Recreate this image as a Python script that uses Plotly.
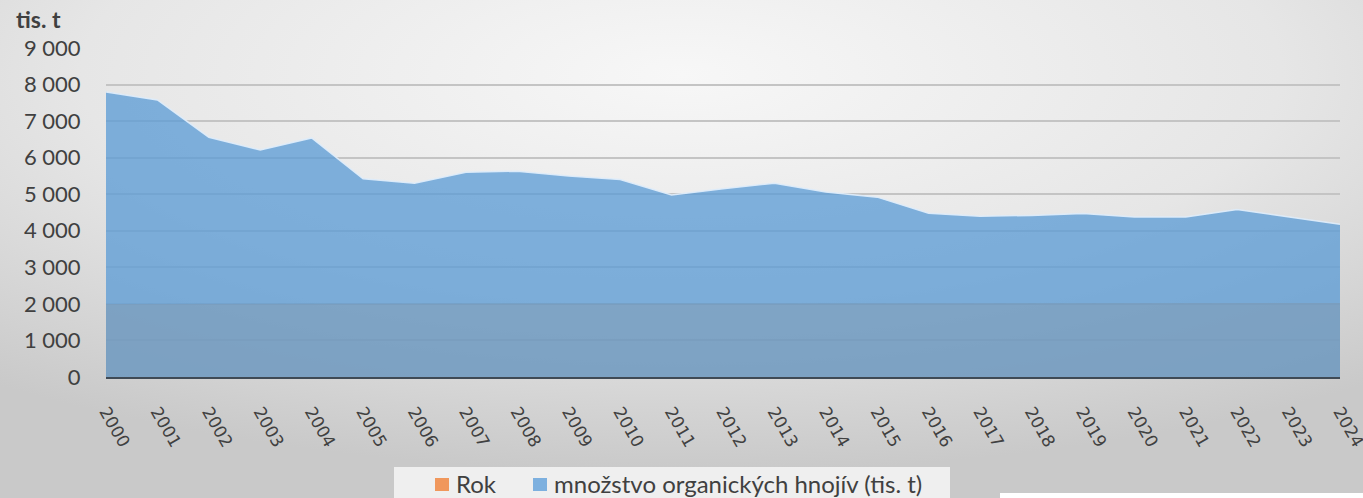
import base64
import plotly.graph_objects as go

# data
years = list(range(2000, 2025))
hnojiva = [7800, 7580, 6560, 6210, 6540, 5420, 5300, 5600, 5630, 5500,
           5400, 4980, 5150, 5300, 5060, 4920, 4480, 4400, 4420, 4470,
           4380, 4380, 4580, 4380, 4180]
rok = years  # the "Rok" series is plotted as values too (flat band near 2000)

series_names = ['Rok', 'množstvo organických hnojív (tis. t)']
series_colors = ['#F0975C', '#7DB0DF']

y_ticks = list(range(0, 9001, 1000))

W, H = 1363, 498
ml, mr, mt, mb = 106, 23, 48, 121
pw, ph = W - ml - mr, H - mt - mb


def px(xp):
    return (xp - ml) / pw


def py(yp):
    return (mt + ph - yp) / ph


# soft grey background gradient, like the Excel chart style
svg = f'''<svg xmlns="http://www.w3.org/2000/svg" width="{W}" height="{H}" preserveAspectRatio="none">
<defs><radialGradient id="g" cx="50%" cy="15%" r="80%">
<stop offset="0%" stop-color="#f7f7f7"/><stop offset="55%" stop-color="#e6e6e6"/>
<stop offset="100%" stop-color="#c9c9c9"/></radialGradient></defs>
<rect width="{W}" height="{H}" fill="url(#g)"/></svg>'''
bg_src = "data:image/svg+xml;base64," + base64.b64encode(svg.encode()).decode()

fig = go.Figure()

fig.add_trace(go.Scatter(
    x=years, y=hnojiva, mode='lines', fill='tozeroy', name=series_names[1],
    fillcolor='rgba(91,155,213,0.76)',
    line=dict(color='rgba(222,236,250,0.95)', width=1.5),
    showlegend=False, hoverinfo='skip'))

fig.add_trace(go.Scatter(
    x=years, y=rok, mode='lines', fill='tozeroy', name=series_names[0],
    fillcolor='rgba(140,140,140,0.25)', line=dict(width=0),
    showlegend=False, hoverinfo='skip'))

fig.add_layout_image(dict(
    source=bg_src, xref='paper', yref='paper',
    x=-ml / pw, y=1 + mt / ph, sizex=W / pw, sizey=H / ph,
    xanchor='left', yanchor='top', sizing='stretch', layer='below'))

# light box behind the legend and white strip at bottom right
fig.add_shape(type='rect', xref='paper', yref='paper',
              x0=px(394), x1=px(950), y0=py(H) - 0.01, y1=py(467),
              fillcolor='rgba(243,243,243,0.9)', line=dict(width=0), layer='above')
fig.add_shape(type='rect', xref='paper', yref='paper',
              x0=px(1000), x1=px(W) + 0.01, y0=py(H) - 0.01, y1=py(493),
              fillcolor='white', line=dict(width=0), layer='above')

# legend drawn by hand (Excel style: small square + label)
legend_sq_x = [435, 533]
for name, color, sx in zip(series_names, series_colors, legend_sq_x):
    fig.add_shape(type='rect', xref='paper', yref='paper',
                  x0=px(sx), x1=px(sx + 14), y0=py(491), y1=py(478),
                  fillcolor=color, line=dict(width=0), layer='above')
    fig.add_annotation(xref='paper', yref='paper', x=px(sx + 19), y=py(483),
                       xanchor='left', yanchor='middle', showarrow=False, text=name,
                       font=dict(family='Lato', size=24, color='#404040'))

fig.add_annotation(xref='paper', yref='paper', x=px(14), y=py(19),
                   xanchor='left', yanchor='middle', showarrow=False, text='<b>tis. t</b>',
                   font=dict(family='Lato', size=23, color='#404040'))

fig.update_layout(
    width=W, height=H,
    margin=dict(l=ml, r=mr, t=mt, b=mb, autoexpand=False),
    paper_bgcolor='#e2e2e2',
    plot_bgcolor='rgba(0,0,0,0)',
    separators=', ',
    showlegend=False,
    font=dict(family='Lato', color='#404040'),
    xaxis=dict(range=[1999.9999, 2024.0001], tickmode='array', tickvals=years,
               tickangle=60, showgrid=False, zeroline=False,
               showline=True, linecolor='#3f4a55', linewidth=2,
               ticks='outside', ticklen=16, tickcolor='rgba(0,0,0,0)',
               ticklabeloverflow='allow', automargin=False,
               tickfont=dict(family='DejaVu Sans', size=17, color='#404040')),
    yaxis=dict(range=[0, 9000], tickvals=y_ticks, tickformat=',d',
               showgrid=True, gridcolor='#c4c4c4', gridwidth=1.5, zeroline=False,
               ticks='outside', ticklen=20, tickcolor='rgba(0,0,0,0)',
               automargin=False,
               tickfont=dict(family='Lato', size=22, color='#404040')),
)

fig.write_html("out.html", post_script="document.body.style.margin='0';",
               config={'displayModeBar': False})
